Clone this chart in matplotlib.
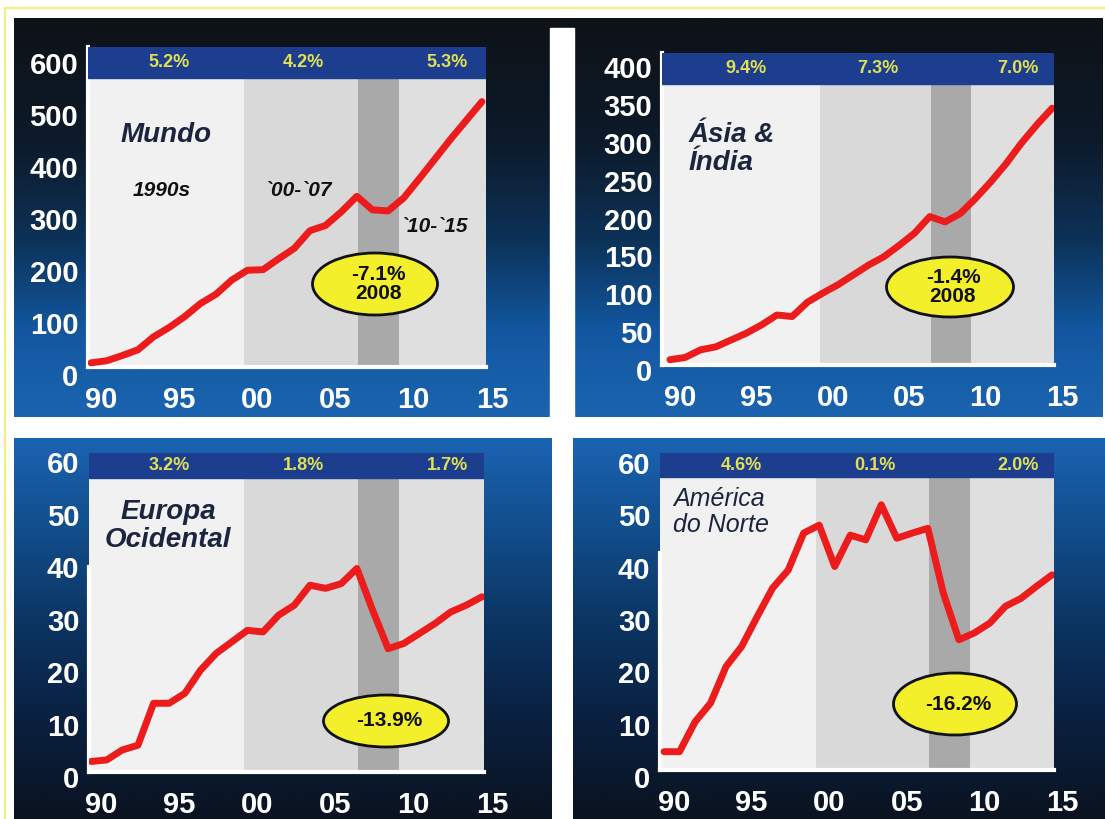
import matplotlib.pyplot as plt
import numpy as np
from matplotlib.patches import Rectangle, Ellipse
from matplotlib.transforms import ScaledTranslation

# data (index, 1990-2015)
years = list(range(1990, 2016))
mundo = [8, 12, 22, 33, 58, 76, 97, 122, 140, 167, 186, 187, 208, 228, 262, 272,
         298, 328, 302, 300, 325, 362, 400, 438, 474, 510]
asia_india = [7, 10, 20, 24, 33, 42, 53, 66, 64, 83, 95, 106, 119, 132, 143, 158,
              174, 196, 189, 200, 220, 242, 266, 293, 317, 339]
europa = [2.0, 2.3, 4.2, 5.1, 13.1, 13.1, 15.0, 19.4, 22.6, 24.8, 27.0, 26.7, 29.9,
          31.8, 35.6, 35.0, 35.9, 38.8, 30.9, 23.5, 24.5, 26.4, 28.3, 30.5, 31.8, 33.4]
america_norte = [3.5, 3.5, 9.2, 12.8, 19.8, 23.6, 29.3, 34.8, 38.2, 45.3, 46.8, 38.9,
                 44.9, 44.0, 50.7, 44.3, 45.3, 46.2, 33.8, 24.9, 26.2, 28.1, 31.3,
                 32.8, 35.1, 37.3]

growth_mundo = ["5.2%", "4.2%", "5.3%"]
growth_asia = ["9.4%", "7.3%", "7.0%"]
growth_europa = ["3.2%", "1.8%", "1.7%"]
growth_america = ["4.6%", "0.1%", "2.0%"]

queda = ["-7.1%\n2008", "-1.4%\n2008", "-13.9%", "-16.2%"]
titulos = ["Mundo", "Ásia &\nÍndia", "Europa\nOcidental", "América\ndo Norte"]
periodos = ["1990s", "`00-`07", "`10-`15"]

tick_years = [1990, 1995, 2000, 2005, 2010, 2015]
tick_labels = ["90", "95", "00", "05", "10", "15"]
era_edges = [1999.8, 2007.1, 2009.7]

W, H = 1105, 819
SANS = ['Liberation Sans', 'DejaVu Sans']
plt.rcParams['font.family'] = SANS
plt.rcParams['font.weight'] = 'bold'

fig = plt.figure(figsize=(W / 100, H / 100), dpi=100)
fig.patch.set_facecolor('white')

# background layer in pixel coordinates
bg = fig.add_axes([0, 0, 1, 1], zorder=-5)
bg.set_xlim(0, W)
bg.set_ylim(H, 0)
bg.axis('off')


def gradient(stops, y0, y1):
    ys = np.linspace(y0, y1, 300)
    sy = [s[0] for s in stops]
    cols = [tuple(int(s[1][i:i + 2], 16) / 255 for i in (1, 3, 5)) for s in stops]
    arr = np.zeros((300, 1, 3))
    for c in range(3):
        arr[:, 0, c] = np.interp(ys, sy, [col[c] for col in cols])
    return arr


top_stops = [(18, '#0e1216'), (140, '#0c1a2a'), (240, '#0c3258'), (330, '#1257a0'), (417, '#1c64b0')]
bot_stops = [(438, '#1b63b3'), (520, '#12508f'), (620, '#0c3564'), (720, '#0a2040'), (819, '#0a1320')]
bg.imshow(gradient(top_stops, 18, 417), extent=(14, 1103, 417, 18), aspect='auto')
bg.imshow(gradient(bot_stops, 438, 819), extent=(14, 552, 819, 438), aspect='auto')
bg.imshow(gradient(bot_stops, 438, 819), extent=(573, 1105, 819, 438), aspect='auto')
bg.add_patch(Rectangle((550, 28), 24, 389, color='white'))
bg.plot([5, W], [8, 8], color='#f2f07a', lw=1.5)
bg.plot([5, 5], [8, H], color='#f2f07a', lw=1.5)

# panels: axes box in pixels (x0, y0, x1, y1), y-limit, y-step, bar height, label shift
panels = [
    ((88, 47, 486, 367), mundo, growth_mundo, 615, 100, 0.097, 8, None),
    ((662, 53, 1054, 365), asia_india, growth_asia, 412, 50, 0.10, 5, None),
    ((89, 453, 484, 772), europa, growth_europa, 60.8, 10, 0.078, 5, 39),
    ((660, 453, 1054, 770), america_norte, growth_america, 60.6, 10, 0.076, 7, 41.5),
]
x_left = [1989.81, 1989.48, 1989.87, 1989.74]
x_right = [2015.26, 2015.13, 2015.13, 2015.13]

for i, (box, values, growth, ytop, ystep, barh, dy, spine_top) in enumerate(panels):
    x0, y0, x1, y1 = box
    ax = fig.add_axes([x0 / W, 1 - y1 / H, (x1 - x0) / W, (y1 - y0) / H])
    ax.set_xlim(x_left[i], x_right[i])
    ax.set_ylim(0, ytop)
    ax.set_facecolor('#f1f1f1')
    ax.axvspan(era_edges[0], era_edges[1], color='#d9d9d9', lw=0)
    ax.axvspan(era_edges[1], era_edges[2], color='#a9a9a9', lw=0)
    ax.axvspan(era_edges[2], x_right[i], color='#dfdfdf', lw=0)
    ax.plot(years, values, color='#ec1c1c', lw=5, solid_joinstyle='round',
            solid_capstyle='round', zorder=4)
    ax.add_patch(Rectangle((0, 1 - barh), 1, barh, transform=ax.transAxes,
                           color='#1d3d8e', zorder=5))
    for xpos, txt in zip([1995, 2003.6, 2012.8], growth):
        ax.text(xpos, 1 - barh / 2, txt, transform=ax.get_xaxis_transform(),
                ha='center', va='center', color='#e0e052', fontsize=13, zorder=6)
    for side in ['top', 'right']:
        ax.spines[side].set_visible(False)
    for side in ['left', 'bottom']:
        ax.spines[side].set_color('white')
        ax.spines[side].set_linewidth(3)
    if spine_top is not None:
        ax.spines['left'].set_bounds(0, spine_top)
    ax.set_xticks(tick_years)
    ax.set_xticklabels(tick_labels)
    ax.set_yticks(np.arange(0, ytop, ystep))
    ax.tick_params(colors='white', labelsize=21, length=0)
    ax.tick_params(axis='x', pad=14)
    ax.tick_params(axis='y', pad=7)
    for lbl in ax.get_xticklabels():
        lbl.set_transform(lbl.get_transform() + ScaledTranslation(10 / 100, 0, fig.dpi_scale_trans))
    for lbl in ax.get_yticklabels():
        lbl.set_transform(lbl.get_transform() + ScaledTranslation(0, -dy / 100, fig.dpi_scale_trans))

# overlay layer for annotations (pixel coordinates)
ov = fig.add_axes([0, 0, 1, 1], zorder=10)
ov.set_xlim(0, W)
ov.set_ylim(H, 0)
ov.axis('off')
ov.patch.set_alpha(0)

navy = '#1b2540'
ov.text(166, 135, titulos[0], ha='center', va='center', fontsize=20, color=navy,
        style='italic', weight='bold')
ov.text(689, 149, titulos[1], ha='left', va='center', fontsize=20, color=navy,
        style='italic', weight='bold', linespacing=1.1)
ov.text(168, 526, titulos[2], ha='center', va='center', fontsize=20, color=navy,
        style='italic', weight='bold', linespacing=1.1)
ov.text(673, 512, titulos[3], ha='left', va='center', fontsize=18, color=navy,
        style='italic', weight='normal', linespacing=1.1)

for (px, py), txt in zip([(162, 190), (298, 190), (434, 227)], periodos):
    ov.text(px, py, txt, ha='center', va='center', fontsize=15, color='#111111',
            style='italic', weight='bold')

ovals = [(375, 284, 125, 62), (950, 287, 127, 60), (386, 721, 125, 52), (955, 704, 123, 62)]
for (cx, cy, w, h), txt in zip(ovals, queda):
    ov.add_patch(Ellipse((cx, cy), w, h, facecolor='#f3ef2a', edgecolor='#111111', lw=2))
    ov.text(cx + 3, cy, txt, ha='center', va='center', fontsize=15, color='#111111',
            linespacing=1.0)

fig.savefig('out.png', dpi=100, facecolor='white')
